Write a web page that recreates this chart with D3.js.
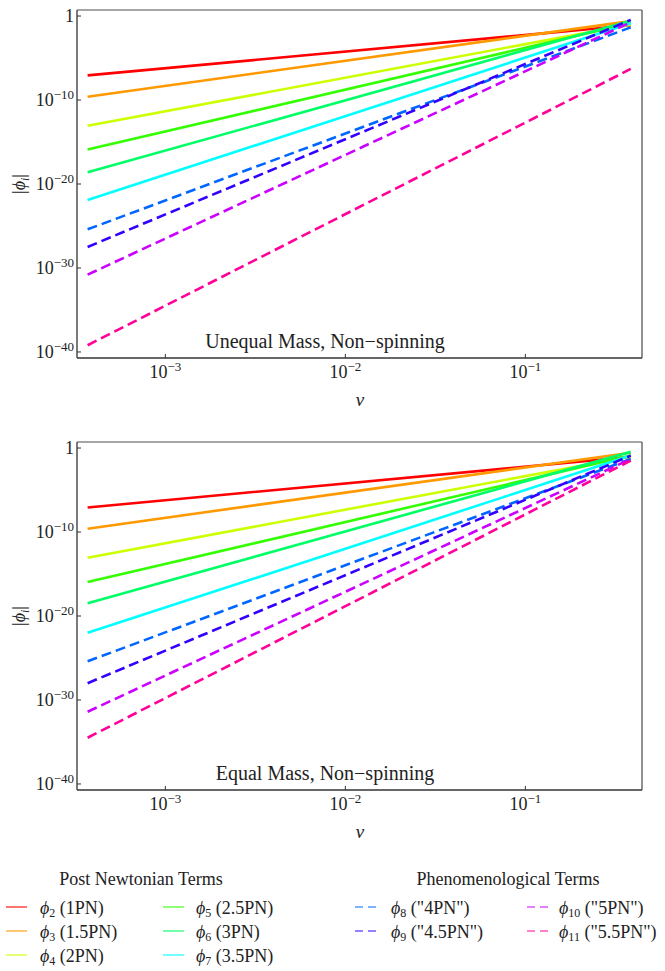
<!DOCTYPE html>
<html>
<head>
<meta charset="utf-8">
<script src="https://cdn.jsdelivr.net/npm/d3@7"></script>
<style>
  body { margin: 0; background: #fff; }
  text { font-family: "Liberation Serif", "DejaVu Serif", serif; fill: #222; }
</style>
</head>
<body>
<div id="chart"></div>
<script>
// valeurs (droites en log-log : un point au début, un à la fin)
const terms = ["2", "3", "4", "5", "6", "7", "8", "9", "10", "11"];
const labels = ["(1PN)", "(1.5PN)", "(2PN)", "(2.5PN)", "(3PN)", "(3.5PN)", "(\"4PN\")", "(\"4.5PN\")", "(\"5PN\")", "(\"5.5PN\")"];
const colors = ["#ff0000", "#ff9900", "#ccff00", "#33ff00", "#00ff66", "#00ffff", "#0066ff", "#3300ff", "#cc00ff", "#ff0099"];
const dashed = [false, false, false, false, false, false, true, true, true, true];

const vStart = 3.7e-4;
const vEnd = 0.385;

// Unequal mass
const unequalStart = [8.7e-8, 2.5e-10, 8.7e-14, 1.26e-16, 2.5e-19, 1.26e-22, 4.0e-26, 3.2e-28, 1.6e-31, 6.3e-40];
const unequalEnd = [0.079, 0.25, 0.1, 0.14, 0.28, 0.14, 0.045, 0.35, 0.18, 5.0e-7];
// Equal mass
const equalStart = [8.5e-8, 2.5e-10, 8.7e-14, 1.1e-16, 3.2e-19, 1.0e-22, 4.0e-26, 1.0e-28, 4.0e-32, 3.2e-35];
const equalEnd = [0.089, 0.28, 0.1, 0.126, 0.35, 0.126, 0.05, 0.126, 0.05, 0.032];

const yTicks = [1, 1e-10, 1e-20, 1e-30, 1e-40];
const yTickExp = ["", "10", "20", "30", "40"];
const xTicks = [1e-3, 1e-2, 1e-1];
const xTickExp = ["3", "2", "1"];

const width = 665, height = 971;
const svg = d3.select("#chart").append("svg")
  .attr("width", width)
  .attr("height", height);

const left = 77, plotW = 565, plotH = 348;

const x = d3.scaleLog().domain([3.23e-4, 0.4446]).range([left, left + plotW]);

function drawPanel(top, startVals, endVals, title) {
  const y = d3.scaleLog().domain([Math.pow(10, -40.72), Math.pow(10, 0.72)]).range([top + plotH, top]);
  const g = svg.append("g");

  // courbes
  const line = d3.line().x(d => x(d[0])).y(d => y(d[1]));
  terms.forEach((t, i) => {
    g.append("path")
      .attr("d", line([[vStart, startVals[i]], [vEnd, endVals[i]]]))
      .attr("fill", "none")
      .attr("stroke", colors[i])
      .attr("stroke-width", 2.6)
      .attr("stroke-dasharray", dashed[i] ? "10,5" : null);
  });

  // cadre
  g.append("line").attr("x1", left).attr("x2", left + plotW).attr("y1", top).attr("y2", top)
    .attr("stroke", "#888").attr("stroke-width", 1.3);
  g.append("line").attr("x1", left + plotW).attr("x2", left + plotW).attr("y1", top).attr("y2", top + plotH)
    .attr("stroke", "#555").attr("stroke-width", 1.3);
  g.append("line").attr("x1", left).attr("x2", left).attr("y1", top).attr("y2", top + plotH)
    .attr("stroke", "#333").attr("stroke-width", 1.3);
  g.append("line").attr("x1", left).attr("x2", left + plotW).attr("y1", top + plotH).attr("y2", top + plotH)
    .attr("stroke", "#333").attr("stroke-width", 1.3);

  // graduations y
  yTicks.forEach((v, i) => {
    g.append("line").attr("x1", left).attr("x2", left + 4).attr("y1", y(v)).attr("y2", y(v))
      .attr("stroke", "#333").attr("stroke-width", 1);
    const t = g.append("text")
      .attr("x", left - 3)
      .attr("y", y(v) + 6)
      .attr("text-anchor", "end")
      .style("font-size", "18px");
    if (yTickExp[i] === "") {
      t.text("1");
    } else {
      t.append("tspan").text("10");
      t.append("tspan").attr("dy", -7).style("font-size", "13px").text("−" + yTickExp[i]);
    }
  });

  // graduations x
  xTicks.forEach((v, i) => {
    g.append("line").attr("x1", x(v)).attr("x2", x(v)).attr("y1", top + plotH).attr("y2", top + plotH - 4)
      .attr("stroke", "#333").attr("stroke-width", 1);
    const t = g.append("text")
      .attr("x", x(v))
      .attr("y", top + plotH + 20)
      .attr("text-anchor", "middle")
      .style("font-size", "18px");
    t.append("tspan").text("10");
    t.append("tspan").attr("dy", -7).style("font-size", "13px").text("−" + xTickExp[i]);
  });

  // titres d'axes
  g.append("text")
    .attr("x", 360)
    .attr("y", top + plotH + 48)
    .attr("text-anchor", "middle")
    .style("font-size", "19px")
    .style("font-style", "italic")
    .text("v");

  const yl = g.append("text")
    .attr("transform", `translate(25, ${top + plotH / 2}) rotate(-90)`)
    .attr("text-anchor", "middle")
    .style("font-size", "18px");
  yl.append("tspan").text("|");
  yl.append("tspan").style("font-style", "italic").text("ϕ");
  yl.append("tspan").attr("dy", 4).style("font-size", "12px").style("font-style", "italic").text("i");
  yl.append("tspan").attr("dy", -4).text("|");

  g.append("text")
    .attr("x", 325)
    .attr("y", top + plotH - 10)
    .attr("text-anchor", "middle")
    .style("font-size", "20px")
    .text(title);
}

drawPanel(10, unequalStart, unequalEnd, "Unequal Mass, Non−spinning");
drawPanel(442, equalStart, equalEnd, "Equal Mass, Non−spinning");

// légende
const legend = svg.append("g");
legend.append("text").attr("x", 141).attr("y", 885).attr("text-anchor", "middle")
  .style("font-size", "18px").text("Post Newtonian Terms");
legend.append("text").attr("x", 508).attr("y", 885).attr("text-anchor", "middle")
  .style("font-size", "18px").text("Phenomenological Terms");

const colLine = [6, 163, 355, 527];
const colText = [40, 196, 391, 559];
const rowY = [914, 938, 962];

terms.forEach((t, i) => {
  let col, row;
  if (i < 6) { col = Math.floor(i / 3); row = i % 3; }
  else { col = 2 + Math.floor((i - 6) / 2); row = (i - 6) % 2; }
  const ly = rowY[row] - 7;
  legend.append("line")
    .attr("x1", colLine[col]).attr("x2", colLine[col] + 21)
    .attr("y1", ly).attr("y2", ly)
    .attr("stroke", colors[i])
    .attr("stroke-width", 1.1)
    .attr("stroke-dasharray", dashed[i] ? "8,5" : null);
  const txt = legend.append("text")
    .attr("x", colText[col])
    .attr("y", rowY[row])
    .style("font-size", "18px");
  txt.append("tspan").style("font-style", "italic").text("ϕ");
  txt.append("tspan").attr("dy", 3).style("font-size", "12px").text(t);
  txt.append("tspan").attr("dy", -3).text(" " + labels[i]);
});
</script>
</body>
</html>
